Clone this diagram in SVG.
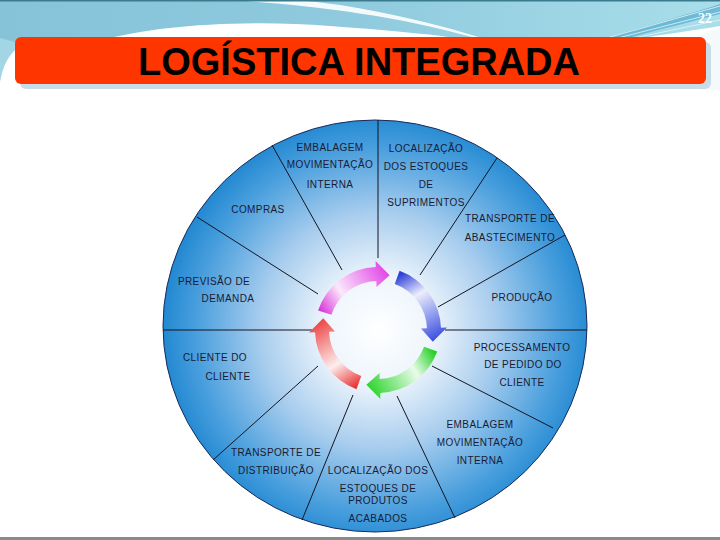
<svg xmlns="http://www.w3.org/2000/svg" width="720" height="540" viewBox="0 0 720 540">
<defs>
<linearGradient id="band" x1="0" y1="0" x2="1" y2="0">
<stop offset="0" stop-color="#86c3d9"/>
<stop offset="0.5" stop-color="#8fcade"/>
<stop offset="1" stop-color="#a9deea"/>
</linearGradient>
<radialGradient id="disc" cx="378" cy="330" r="214" gradientUnits="userSpaceOnUse">
<stop offset="0" stop-color="#ffffff"/>
<stop offset="0.25" stop-color="#eef5fc"/>
<stop offset="0.55" stop-color="#a8cdee"/>
<stop offset="0.85" stop-color="#4a9fdd"/>
<stop offset="1" stop-color="#2389d2"/>
</radialGradient>
<linearGradient id="gMag" gradientUnits="userSpaceOnUse" x1="322" y1="315" x2="390" y2="270">
<stop offset="0" stop-color="#d830d8"/>
<stop offset="0.35" stop-color="#fbe8fb"/>
<stop offset="1" stop-color="#e03ce6"/>
</linearGradient>
<linearGradient id="gBlue" gradientUnits="userSpaceOnUse" x1="398" y1="276" x2="436" y2="340">
<stop offset="0" stop-color="#3040d8"/>
<stop offset="0.35" stop-color="#eceefc"/>
<stop offset="1" stop-color="#3a4ee0"/>
</linearGradient>
<linearGradient id="gGreen" gradientUnits="userSpaceOnUse" x1="432" y1="348" x2="368" y2="388">
<stop offset="0" stop-color="#22d022"/>
<stop offset="0.35" stop-color="#eafbea"/>
<stop offset="1" stop-color="#2ad42a"/>
</linearGradient>
<linearGradient id="gRed" gradientUnits="userSpaceOnUse" x1="360" y1="385" x2="320" y2="322">
<stop offset="0" stop-color="#e83030"/>
<stop offset="0.4" stop-color="#fdeeee"/>
<stop offset="1" stop-color="#ee4a4a"/>
</linearGradient>
<style>
.lbl{font-family:"Liberation Sans",Arial,sans-serif;font-size:10px;fill:#1a1a33;text-anchor:middle;letter-spacing:0.4px}
.spoke{stroke:#151520;stroke-width:1;fill:none}
</style>
</defs>
<rect x="0" y="0" width="720" height="540" fill="#ffffff"/>
<g id="header-decor">
<path d="M0,0 H720 V26 C690,31 650,36 620,42 H0 Z" fill="url(#band)"/>
<path d="M0,38 V82 C3,66 8,54 22,44 Z" fill="#a3d6e5"/>
<path d="M95,42 C150,26 240,19 330,26 C400,31 450,36 480,42 Z" fill="#ffffff"/>
<path d="M228,0 C300,4 390,14 472,37 L482,38 C405,14 330,2 295,0 Z" fill="#ffffff" opacity="0.9"/>
<path d="M600,40 C640,28 690,14 720,4 V14 C690,22 650,32 620,40 Z" fill="#5fb2d2" opacity="0.8"/>
<path d="M600,40 L720,6 M610,40 L720,12 M625,40 L720,20" stroke="#e6f6fb" stroke-width="0.8" fill="none"/>
<path d="M690,42 C700,34 710,30 720,28 V90 H700 Z" fill="#f4f9fb"/>
<rect x="0" y="0" width="720" height="1.5" fill="#3b7b8e"/>
<text x="712" y="23" font-family="Liberation Serif,serif" font-weight="bold" font-size="14" fill="#ffffff" text-anchor="end">22</text>
</g>
<g id="title">
<rect x="20" y="42" width="691" height="47" rx="6" fill="#c9dbe6"/>
<rect x="15" y="37" width="691" height="47" rx="6" fill="#ff3500"/>
<text x="359" y="75" font-family="Liberation Sans,Arial,sans-serif" font-weight="bold" font-size="38" fill="#000000" text-anchor="middle" textLength="442" lengthAdjust="spacingAndGlyphs">LOGÍSTICA INTEGRADA</text>
</g>
<g id="wheel">
<ellipse cx="375" cy="326" rx="212" ry="206" fill="url(#disc)" stroke="#1a2a5a" stroke-width="1"/>
</g>
<g id="connectors">
<line class="spoke" x1="378" y1="120" x2="378" y2="258"/>
<line class="spoke" x1="272" y1="145" x2="342" y2="270"/>
<line class="spoke" x1="497" y1="158" x2="420" y2="275"/>
<line class="spoke" x1="197" y1="217" x2="318" y2="294"/>
<line class="spoke" x1="565" y1="235" x2="438" y2="307"/>
<line class="spoke" x1="163" y1="330" x2="312" y2="330"/>
<line class="spoke" x1="445" y1="330" x2="587" y2="330"/>
<line class="spoke" x1="432" y1="366" x2="553" y2="428"/>
<line class="spoke" x1="318" y1="366" x2="213" y2="460"/>
<line class="spoke" x1="353" y1="395" x2="302" y2="520"/>
<line class="spoke" x1="397" y1="396" x2="455" y2="518"/>
</g>
<g id="cycle-arrows">
<path d="M318.08,310.53 A63,63 0 0 1 375.80,267.04 L375.59,261.04 L389.64,275.23 L376.50,287.03 L376.29,281.03 A49,49 0 0 0 331.40,314.86 Z" fill="url(#gMag)"/>
<path d="M399.55,270.80 A63,63 0 0 1 440.96,327.80 L446.96,327.59 L432.77,341.64 L420.97,328.50 L426.97,328.29 A49,49 0 0 0 394.76,283.95 Z" fill="url(#gBlue)"/>
<path d="M437.20,351.55 A63,63 0 0 1 380.20,392.96 L380.41,398.96 L366.36,384.77 L379.50,372.97 L379.71,378.97 A49,49 0 0 0 424.05,346.76 Z" fill="url(#gGreen)"/>
<path d="M356.45,389.20 A63,63 0 0 1 315.04,332.20 L309.04,332.41 L323.23,318.36 L335.03,331.50 L329.03,331.71 A49,49 0 0 0 361.24,376.05 Z" fill="url(#gRed)"/>
</g>
<g id="embalagem-top">
<text class="lbl" x="330" y="151">EMBALAGEM</text>
<text class="lbl" x="330" y="168">MOVIMENTAÇÃO</text>
<text class="lbl" x="330" y="188">INTERNA</text>
</g>
<g id="localizacao-suprimentos">
<text class="lbl" x="426" y="152">LOCALIZAÇÃO</text>
<text class="lbl" x="426" y="170">DOS ESTOQUES</text>
<text class="lbl" x="426" y="188">DE</text>
<text class="lbl" x="426" y="206">SUPRIMENTOS</text>
</g>
<g id="compras">
<text class="lbl" x="258" y="213">COMPRAS</text>
</g>
<g id="transporte-abastecimento">
<text class="lbl" x="510" y="222">TRANSPORTE DE</text>
<text class="lbl" x="510" y="241">ABASTECIMENTO</text>
</g>
<g id="previsao-demanda">
<text class="lbl" x="214" y="285">PREVISÃO DE</text>
<text class="lbl" x="228" y="302">DEMANDA</text>
</g>
<g id="producao">
<text class="lbl" x="522" y="301">PRODUÇÃO</text>
</g>
<g id="processamento-pedido">
<text class="lbl" x="522" y="351">PROCESSAMENTO</text>
<text class="lbl" x="523" y="368">DE PEDIDO DO</text>
<text class="lbl" x="522" y="386">CLIENTE</text>
</g>
<g id="cliente-do-cliente">
<text class="lbl" x="215" y="361">CLIENTE DO</text>
<text class="lbl" x="228" y="380">CLIENTE</text>
</g>
<g id="embalagem-bottom">
<text class="lbl" x="480" y="428">EMBALAGEM</text>
<text class="lbl" x="480" y="446">MOVIMENTAÇÃO</text>
<text class="lbl" x="480" y="464">INTERNA</text>
</g>
<g id="transporte-distribuicao">
<text class="lbl" x="276" y="456">TRANSPORTE DE</text>
<text class="lbl" x="276" y="474">DISTRIBUIÇÃO</text>
</g>
<g id="localizacao-acabados">
<text class="lbl" x="378" y="474">LOCALIZAÇÃO DOS</text>
<text class="lbl" x="378" y="492">ESTOQUES DE</text>
<text class="lbl" x="378" y="504">PRODUTOS</text>
<text class="lbl" x="378" y="522">ACABADOS</text>
</g>
<rect x="0" y="537" width="720" height="3" fill="#8a8a8a"/>
</svg>
